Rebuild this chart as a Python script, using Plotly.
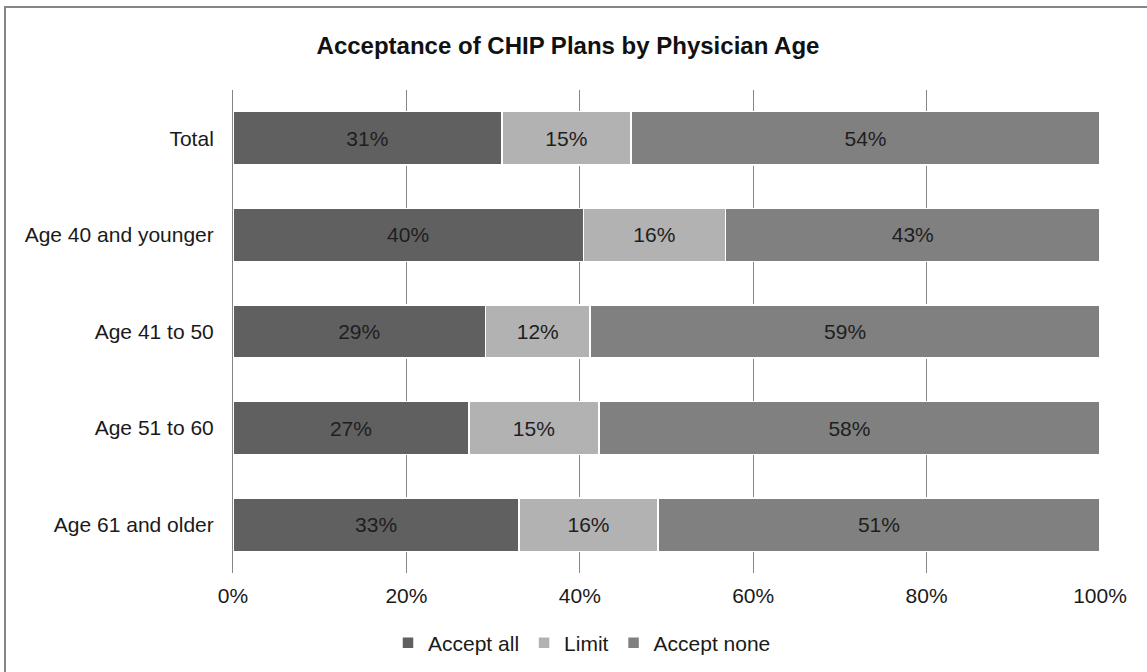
import plotly.graph_objects as go

categories = ["Total", "Age 40 and younger", "Age 41 to 50", "Age 51 to 60", "Age 61 and older"]
accept_all = [31.0, 40.4, 29.1, 27.2, 33.0]
limit = [14.9, 16.4, 12.1, 15.0, 16.0]
accept_none = [54.1, 43.2, 58.8, 57.8, 51.0]
x_ticks = [0, 20, 40, 60, 80, 100]
x_tick_labels = ["0%", "20%", "40%", "60%", "80%", "100%"]

series = [
    ("Accept all", accept_all, "#606060"),
    ("Limit", limit, "#b2b2b2"),
    ("Accept none", accept_none, "#808080"),
]

FONT = "Liberation Sans, Arial, sans-serif"
fig = go.Figure()
for name, vals, col in series:
    fig.add_trace(go.Bar(
        y=categories, x=vals, name=name, orientation="h",
        marker=dict(color=col, line=dict(color="white", width=1.5)),
        texttemplate="%{x:.0f}%", textposition="inside", insidetextanchor="middle",
        textangle=0, textfont=dict(size=21, color="#1e1e1e", family=FONT),
        hoverinfo="skip",
    ))

W, H = 1147, 672
L, R, T, B = 233, 47, 90, 99
pw, ph = W - L - R, H - T - B

fig.update_layout(
    width=W, height=H, barmode="stack", bargap=0.45,
    margin=dict(l=L, r=R, t=T, b=B, autoexpand=False),
    paper_bgcolor="white", plot_bgcolor="white",
    font=dict(family=FONT, size=21, color="#1a1a1a"),
    title=dict(text="<b>Acceptance of CHIP Plans by Physician Age</b>",
               x=568 / W, xanchor="center", y=1 - 46 / H, yanchor="middle",
               xref="container", yref="container",
               font=dict(size=24, color="#111111", family=FONT)),
    showlegend=True,
    legend=dict(orientation="h", x=(582 - L) / pw, xanchor="center",
                y=(T + ph - 643) / ph, yanchor="middle",
                font=dict(size=21, family=FONT), traceorder="normal",
                itemwidth=30, itemclick=False),
    xaxis=dict(range=[0, 100], tickvals=x_ticks, ticktext=x_tick_labels,
               showgrid=True, gridcolor="#868686", gridwidth=1,
               zeroline=False, showline=False, ticks="", fixedrange=True,
               ticklabelstandoff=8),
    yaxis=dict(categoryorder="array", categoryarray=categories, autorange="reversed",
               showgrid=False, zeroline=False, showline=True, linecolor="#868686",
               ticks="", ticklabelstandoff=14, fixedrange=True),
    shapes=[dict(type="rect", xref="paper", yref="paper",
                 x0=(5 - L) / pw, x1=1.3, y0=-0.4, y1=(T + ph - 7) / ph,
                 line=dict(color="#868686", width=2), fillcolor="rgba(0,0,0,0)",
                 layer="below")],
)

fig.write_html("out.html", config={"displayModeBar": False},
               post_script="document.body.style.margin='0px';")
